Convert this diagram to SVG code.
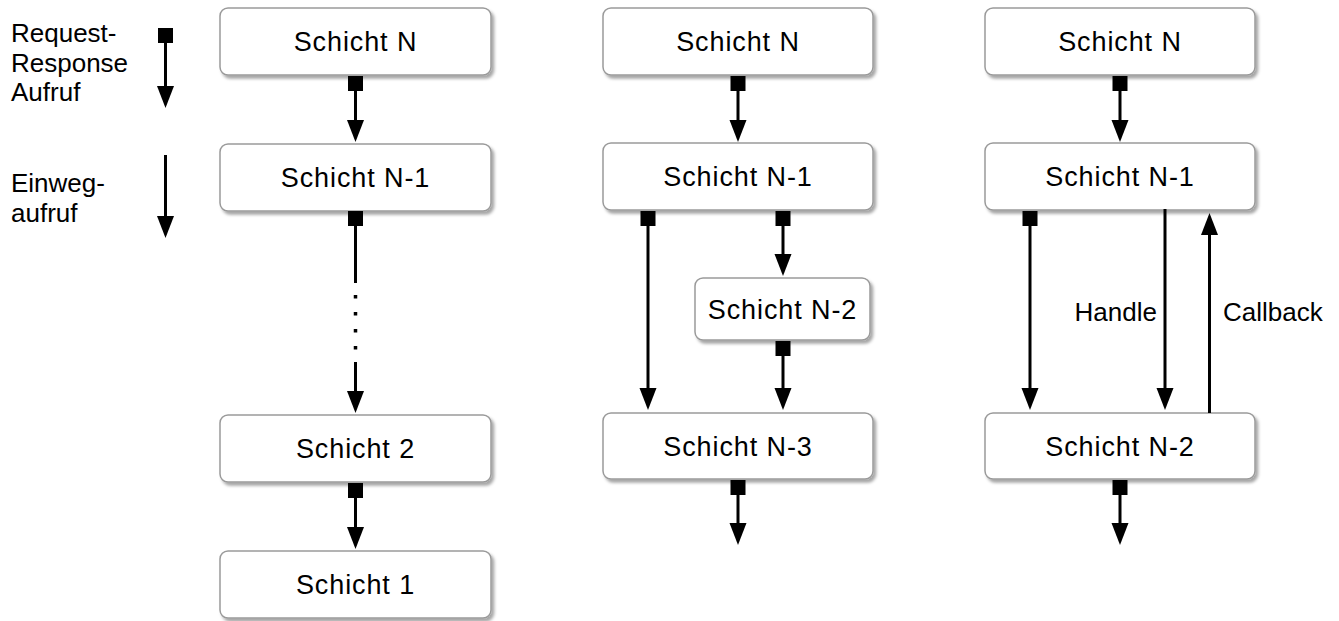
<svg xmlns="http://www.w3.org/2000/svg" width="1339" height="621" viewBox="0 0 1339 621">
<style>
.box{fill:#fff;stroke:#9a9a9a;stroke-width:1.5;filter:url(#sh)}
.lbl{font-family:"Liberation Sans",Arial,sans-serif;font-size:27px;letter-spacing:0.9px;text-anchor:middle;fill:#000}
.txt{font-family:"Liberation Sans",Arial,sans-serif;font-size:26px;fill:#000}
.c{fill:none;stroke:#000;stroke-width:3}
.rr{marker-start:url(#sq);marker-end:url(#ah)}
.ow{marker-end:url(#ah)}
.dots{fill:none;stroke:#000;stroke-width:3.5;stroke-dasharray:3.5 13.5}
</style>
<defs>
<filter id="sh" x="-10%" y="-20%" width="125%" height="150%">
<feDropShadow dx="2.5" dy="3" stdDeviation="1.5" flood-color="#000" flood-opacity="0.35"/>
</filter>
<marker id="ah" markerUnits="userSpaceOnUse" markerWidth="22" markerHeight="17" refX="12" refY="8.5" orient="auto" overflow="visible">
<path d="M0,0 L22,8.5 L0,17 z" fill="#000"/>
</marker>
<marker id="sq" markerUnits="userSpaceOnUse" markerWidth="15" markerHeight="15" refX="0" refY="7.5" orient="auto" overflow="visible">
<path d="M0,0 h15 v15 h-15 z" fill="#000"/>
</marker>
</defs>

<g id="legend">
<text class="txt" x="11" y="42">Request-</text>
<text class="txt" x="11" y="72">Response</text>
<text class="txt" x="11" y="101">Aufruf</text>
<path class="c rr" d="M165.5,28 V98"/>
<text class="txt" x="11" y="192">Einweg-</text>
<text class="txt" x="11" y="222">aufruf</text>
<path class="c ow" d="M165.5,155 V228"/>
</g>

<g id="col1-n"><rect class="box" x="220" y="8" width="271" height="67" rx="8"/><text class="lbl" x="355.5" y="51">Schicht N</text></g>
<g id="col1-n1"><rect class="box" x="220" y="144" width="271" height="67" rx="8"/><text class="lbl" x="355.5" y="187">Schicht N-1</text></g>
<g id="col1-2"><rect class="box" x="220" y="415" width="271" height="67" rx="8"/><text class="lbl" x="355.5" y="458">Schicht 2</text></g>
<g id="col1-1"><rect class="box" x="220" y="551" width="271" height="67" rx="8"/><text class="lbl" x="355.5" y="594">Schicht 1</text></g>

<g id="col2-n"><rect class="box" x="603" y="8" width="270" height="67" rx="8"/><text class="lbl" x="738" y="51">Schicht N</text></g>
<g id="col2-n1"><rect class="box" x="603" y="143" width="270" height="67" rx="8"/><text class="lbl" x="738" y="186">Schicht N-1</text></g>
<g id="col2-n2"><rect class="box" x="695" y="278" width="175" height="62" rx="8"/><text class="lbl" x="782.5" y="318.5">Schicht N-2</text></g>
<g id="col2-n3"><rect class="box" x="603" y="413" width="270" height="66" rx="8"/><text class="lbl" x="738" y="455.5">Schicht N-3</text></g>

<g id="col3-n"><rect class="box" x="985" y="8" width="270" height="67" rx="8"/><text class="lbl" x="1120" y="51">Schicht N</text></g>
<g id="col3-n1"><rect class="box" x="985" y="143" width="270" height="67" rx="8"/><text class="lbl" x="1120" y="186">Schicht N-1</text></g>
<g id="col3-n2"><rect class="box" x="985" y="413" width="270" height="66" rx="8"/><text class="lbl" x="1120" y="455.5">Schicht N-2</text></g>

<g id="connectors">
<path class="c rr" d="M355.5,76 V132"/>
<path class="c" d="M355.5,211 V283" style="marker-start:url(#sq)"/>
<path class="dots" d="M355.5,295 V352"/>
<path class="c ow" d="M355.5,362 V403"/>
<path class="c rr" d="M355.5,483 V539"/>

<path class="c rr" d="M738,76 V132"/>
<path class="c rr" d="M648,211 V400"/>
<path class="c rr" d="M783,211 V266"/>
<path class="c rr" d="M783,341 V400"/>
<path class="c rr" d="M738,480 V535"/>

<path class="c rr" d="M1120,76 V132"/>
<path class="c rr" d="M1030,211 V400"/>
<path class="c ow" d="M1165,209 V400"/>
<path class="c ow" d="M1209.5,413 V223"/>
<path class="c rr" d="M1120,480 V535"/>
<text class="txt" x="1157" y="321" text-anchor="end">Handle</text>
<text class="txt" x="1223" y="321">Callback</text>
</g>
</svg>
